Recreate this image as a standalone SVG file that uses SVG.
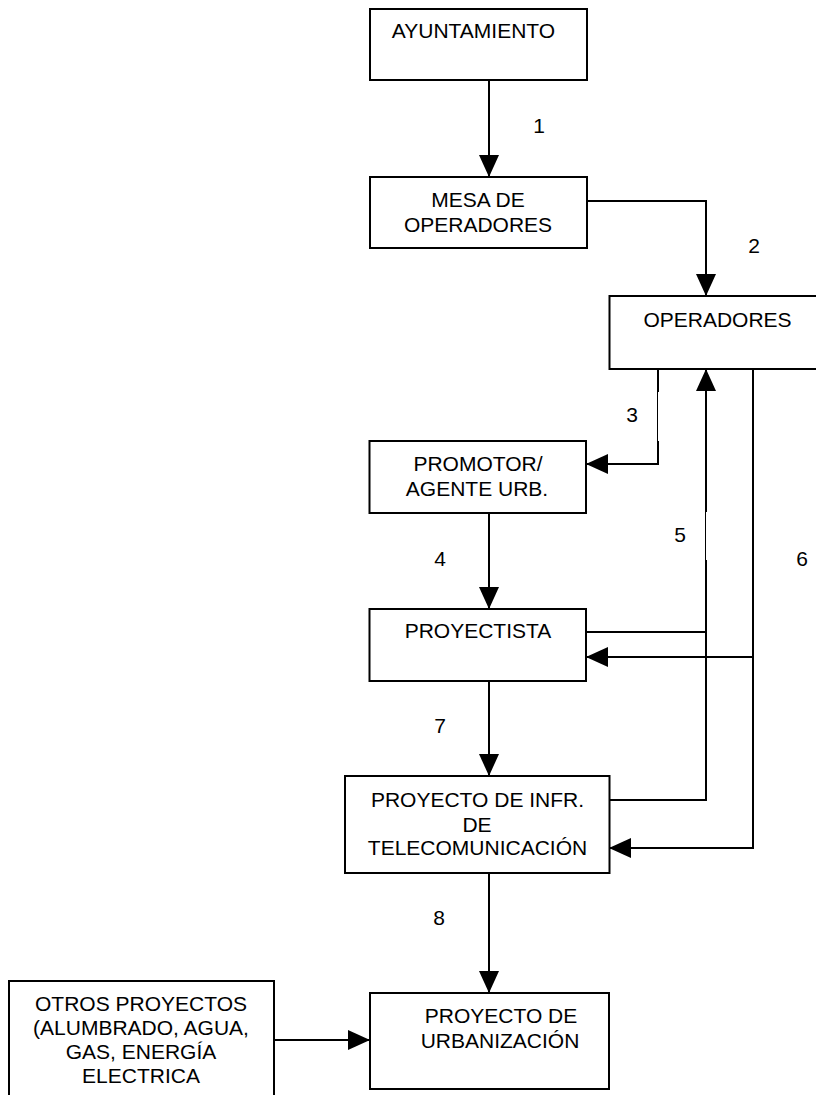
<svg xmlns="http://www.w3.org/2000/svg" width="816" height="1095" viewBox="0 0 816 1095">
<style>
.box{fill:#fff;stroke:#000;stroke-width:2}
.t{font-family:"Liberation Sans",Arial,sans-serif;font-size:21px;fill:#000;text-anchor:middle}
.c{fill:none;stroke:#000;stroke-width:2}
.thin{fill:none;stroke:#000;stroke-width:1}
</style>
<defs>
<marker id="ah" markerUnits="userSpaceOnUse" markerWidth="22" markerHeight="20" refX="22" refY="10" orient="auto" viewBox="0 0 22 20">
<path d="M0,0 L22,10 L0,20 z" fill="#000"/>
</marker>
</defs>
<rect width="816" height="1095" fill="#fff"/>
<g id="connectors">
<path class="c" d="M489,80 V177" marker-end="url(#ah)"/>
<path class="c" d="M587,201 H706 V296" marker-end="url(#ah)"/>
<path class="c" d="M658,369 V392"/>
<path class="thin" d="M657.5,392 V441"/>
<path class="c" d="M658,441 V464 H586" marker-end="url(#ah)"/>
<path class="c" d="M489,513 V609" marker-end="url(#ah)"/>
<path class="c" d="M609,800 H706 V560"/>
<path class="thin" d="M705.5,560 V512"/>
<path class="c" d="M706,512 V369" marker-end="url(#ah)"/>
<path class="c" d="M586,632 H706"/>
<path class="c" d="M753,369 V848 H609" marker-end="url(#ah)"/>
<path class="c" d="M753,657 H586" marker-end="url(#ah)"/>
<path class="c" d="M489,681 V776" marker-end="url(#ah)"/>
<path class="c" d="M489,873 V993" marker-end="url(#ah)"/>
<path class="c" d="M274,1040 H370" marker-end="url(#ah)"/>
<text class="t" x="539" y="133">1</text>
<text class="t" x="754" y="253">2</text>
<text class="t" x="632" y="422">3</text>
<text class="t" x="440" y="566">4</text>
<text class="t" x="680" y="542">5</text>
<text class="t" x="802" y="566">6</text>
<text class="t" x="440" y="733">7</text>
<text class="t" x="439" y="925">8</text>
</g>
<g id="ayuntamiento">
<rect class="box" x="370" y="9" width="217" height="71"/>
<text class="t" x="473.5" y="38">AYUNTAMIENTO</text>
</g>
<g id="mesa">
<rect class="box" x="370" y="177" width="217" height="71"/>
<text class="t" x="478" y="207">MESA DE</text>
<text class="t" x="478" y="232">OPERADORES</text>
</g>
<g id="operadores">
<rect class="box" x="609.5" y="296" width="217" height="73"/>
<text class="t" x="717.5" y="327">OPERADORES</text>
</g>
<g id="promotor">
<rect class="box" x="369.5" y="441" width="216.5" height="72"/>
<text class="t" x="478" y="471">PROMOTOR/</text>
<text class="t" x="477" y="496">AGENTE URB.</text>
</g>
<g id="proyectista">
<rect class="box" x="369.5" y="609" width="216.5" height="72"/>
<text class="t" x="478" y="638">PROYECTISTA</text>
</g>
<g id="infraestructura">
<rect class="box" x="345" y="776" width="264.5" height="97"/>
<text class="t" x="477.5" y="807">PROYECTO DE INFR.</text>
<text class="t" x="477" y="832">DE</text>
<text class="t" x="477.5" y="855">TELECOMUNICACIÓN</text>
</g>
<g id="urbanizacion">
<rect class="box" x="370" y="993" width="239" height="96"/>
<text class="t" x="501" y="1023">PROYECTO DE</text>
<text class="t" x="500" y="1048">URBANIZACIÓN</text>
</g>
<g id="otros">
<rect class="box" x="9" y="981" width="265" height="130"/>
<text class="t" x="141" y="1011">OTROS PROYECTOS</text>
<text class="t" x="141" y="1035">(ALUMBRADO, AGUA,</text>
<text class="t" x="141" y="1059">GAS, ENERGÍA</text>
<text class="t" x="141" y="1083">ELECTRICA</text>
</g>
</svg>
